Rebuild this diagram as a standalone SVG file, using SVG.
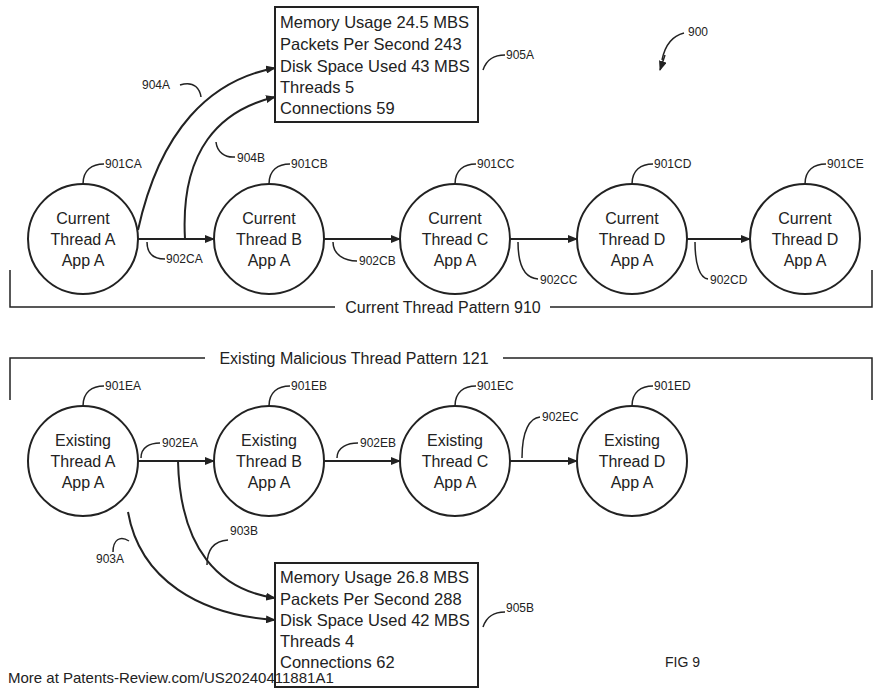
<svg xmlns="http://www.w3.org/2000/svg" width="880" height="692" viewBox="0 0 880 692">
<style>
.n{fill:#fff;stroke:#222;stroke-width:2}
.t{font-family:"Liberation Sans",Arial,sans-serif;font-size:16px;fill:#222;text-anchor:middle}
.b{font-family:"Liberation Sans",Arial,sans-serif;font-size:16.5px;fill:#222}
.s{font-family:"Liberation Sans",Arial,sans-serif;font-size:12px;fill:#222}
.l{fill:none;stroke:#222;stroke-width:1.5}
.a{fill:none;stroke:#222;stroke-width:2;marker-end:url(#ah)}
</style>
<defs><marker id="ah" markerWidth="10" markerHeight="8" refX="9" refY="4" orient="auto" markerUnits="userSpaceOnUse"><path d="M0,0L10,4L0,8z" fill="#222"/></marker></defs>
<rect width="880" height="692" fill="#fff"/>
<g id="connectors">
<path class="a" d="M138,239H214"/>
<path class="a" d="M324,239H400"/>
<path class="a" d="M510,239H577"/>
<path class="a" d="M687,239H750"/>
<path class="a" d="M138,230C160,130 210,80 275,68"/>
<path class="a" d="M185,239C180,150 220,110 275,97"/>
<path class="a" d="M138,461H214"/>
<path class="a" d="M324,461H400"/>
<path class="a" d="M510,461H577"/>
<path class="a" d="M128,512C140,580 200,615 275,620"/>
<path class="a" d="M178,461C180,550 220,590 275,598"/>
</g>
<g id="brackets">
<path class="l" d="M10,270V307H335M550,307H872V270"/>
<text class="t" x="443" y="313">Current Thread Pattern 910</text>
<path class="l" d="M10,400V358H205M503,358H872V400"/>
<text class="t" x="354" y="364">Existing Malicious Thread Pattern 121</text>
</g>
<g id="n901CA"><circle class="n" cx="83" cy="239" r="55"/><text class="t" x="83" y="224">Current</text><text class="t" x="83" y="245">Thread A</text><text class="t" x="83" y="266">App A</text></g>
<g id="n901CB"><circle class="n" cx="269" cy="239" r="55"/><text class="t" x="269" y="224">Current</text><text class="t" x="269" y="245">Thread B</text><text class="t" x="269" y="266">App A</text></g>
<g id="n901CC"><circle class="n" cx="455" cy="239" r="55"/><text class="t" x="455" y="224">Current</text><text class="t" x="455" y="245">Thread C</text><text class="t" x="455" y="266">App A</text></g>
<g id="n901CD"><circle class="n" cx="632" cy="239" r="55"/><text class="t" x="632" y="224">Current</text><text class="t" x="632" y="245">Thread D</text><text class="t" x="632" y="266">App A</text></g>
<g id="n901CE"><circle class="n" cx="805" cy="239" r="55"/><text class="t" x="805" y="224">Current</text><text class="t" x="805" y="245">Thread D</text><text class="t" x="805" y="266">App A</text></g>
<g id="n901EA"><circle class="n" cx="83" cy="461" r="55"/><text class="t" x="83" y="446">Existing</text><text class="t" x="83" y="467">Thread A</text><text class="t" x="83" y="488">App A</text></g>
<g id="n901EB"><circle class="n" cx="269" cy="461" r="55"/><text class="t" x="269" y="446">Existing</text><text class="t" x="269" y="467">Thread B</text><text class="t" x="269" y="488">App A</text></g>
<g id="n901EC"><circle class="n" cx="455" cy="461" r="55"/><text class="t" x="455" y="446">Existing</text><text class="t" x="455" y="467">Thread C</text><text class="t" x="455" y="488">App A</text></g>
<g id="n901ED"><circle class="n" cx="632" cy="461" r="55"/><text class="t" x="632" y="446">Existing</text><text class="t" x="632" y="467">Thread D</text><text class="t" x="632" y="488">App A</text></g>
<g id="n905A"><rect class="n" x="275" y="7" width="203" height="115"/>
<text class="b" x="280" y="28">Memory Usage 24.5 MBS</text><text class="b" x="280" y="50">Packets Per Second 243</text><text class="b" x="280" y="72">Disk Space Used 43 MBS</text><text class="b" x="280" y="93">Threads 5</text><text class="b" x="280" y="114">Connections 59</text></g>
<g id="n905B"><rect class="n" x="275" y="563" width="203" height="124"/>
<text class="b" x="280" y="583">Memory Usage 26.8 MBS</text><text class="b" x="280" y="605">Packets Per Second 288</text><text class="b" x="280" y="626">Disk Space Used 42 MBS</text><text class="b" x="280" y="647">Threads 4</text><text class="b" x="280" y="668">Connections 62</text></g>
<g id="labels">
<path class="l" d="M83,184C83,170 92,164 104,164"/><text class="s" x="105" y="168">901CA</text>
<path class="l" d="M269,184C269,170 278,164 290,164"/><text class="s" x="291" y="168">901CB</text>
<path class="l" d="M455,184C455,170 464,164 476,164"/><text class="s" x="477" y="168">901CC</text>
<path class="l" d="M632,184C632,170 641,164 653,164"/><text class="s" x="654" y="168">901CD</text>
<path class="l" d="M805,184C805,170 814,164 826,164"/><text class="s" x="827" y="168">901CE</text>
<path class="l" d="M147,242C147,255 155,259 165,259"/><text class="s" x="166" y="263">902CA</text>
<path class="l" d="M333,242C333,255 345,261 357,261"/><text class="s" x="359" y="265">902CB</text>
<path class="l" d="M518,242C518,265 525,278 538,279"/><text class="s" x="540" y="284">902CC</text>
<path class="l" d="M695,242C695,265 700,278 708,279"/><text class="s" x="710" y="284">902CD</text>
<path class="l" d="M180,85C195,80 200,90 201,97"/><text class="s" x="142" y="89">904A</text>
<path class="l" d="M216,142C217,152 225,158 235,157"/><text class="s" x="237" y="162">904B</text>
<path class="l" d="M483,70C487,58 495,55 505,55"/><text class="s" x="506" y="59">905A</text>
<path class="l" d="M684,33C672,36 665,45 662,60"/><text class="s" x="688" y="36">900</text>
<path class="a" d="M665,55L660,70" style="stroke-width:1.5"/>
<path class="l" d="M83,406C83,392 92,386 104,386"/><text class="s" x="105" y="390">901EA</text>
<path class="l" d="M269,406C269,392 278,386 290,386"/><text class="s" x="291" y="390">901EB</text>
<path class="l" d="M455,406C455,392 464,386 476,386"/><text class="s" x="477" y="390">901EC</text>
<path class="l" d="M632,406C632,392 641,386 653,386"/><text class="s" x="654" y="390">901ED</text>
<path class="l" d="M141,458C141,447 150,443 160,443"/><text class="s" x="162" y="447">902EA</text>
<path class="l" d="M337,458C337,447 348,443 358,443"/><text class="s" x="360" y="447">902EB</text>
<path class="l" d="M522,458C522,430 530,418 540,417"/><text class="s" x="542" y="421">902EC</text>
<path class="l" d="M207,565C207,548 215,541 228,540"/><text class="s" x="230" y="535">903B</text>
<path class="l" d="M113,552C113,540 120,535 129,541"/><text class="s" x="96" y="563">903A</text>
<path class="l" d="M483,627C487,615 495,612 505,612"/><text class="s" x="506" y="612">905B</text>
</g>
<text class="b" x="8" y="683" style="font-size:15px">More at Patents-Review.com/US20240411881A1</text>
<text class="s" x="665" y="667" style="font-size:14px">FIG  9</text>
</svg>
